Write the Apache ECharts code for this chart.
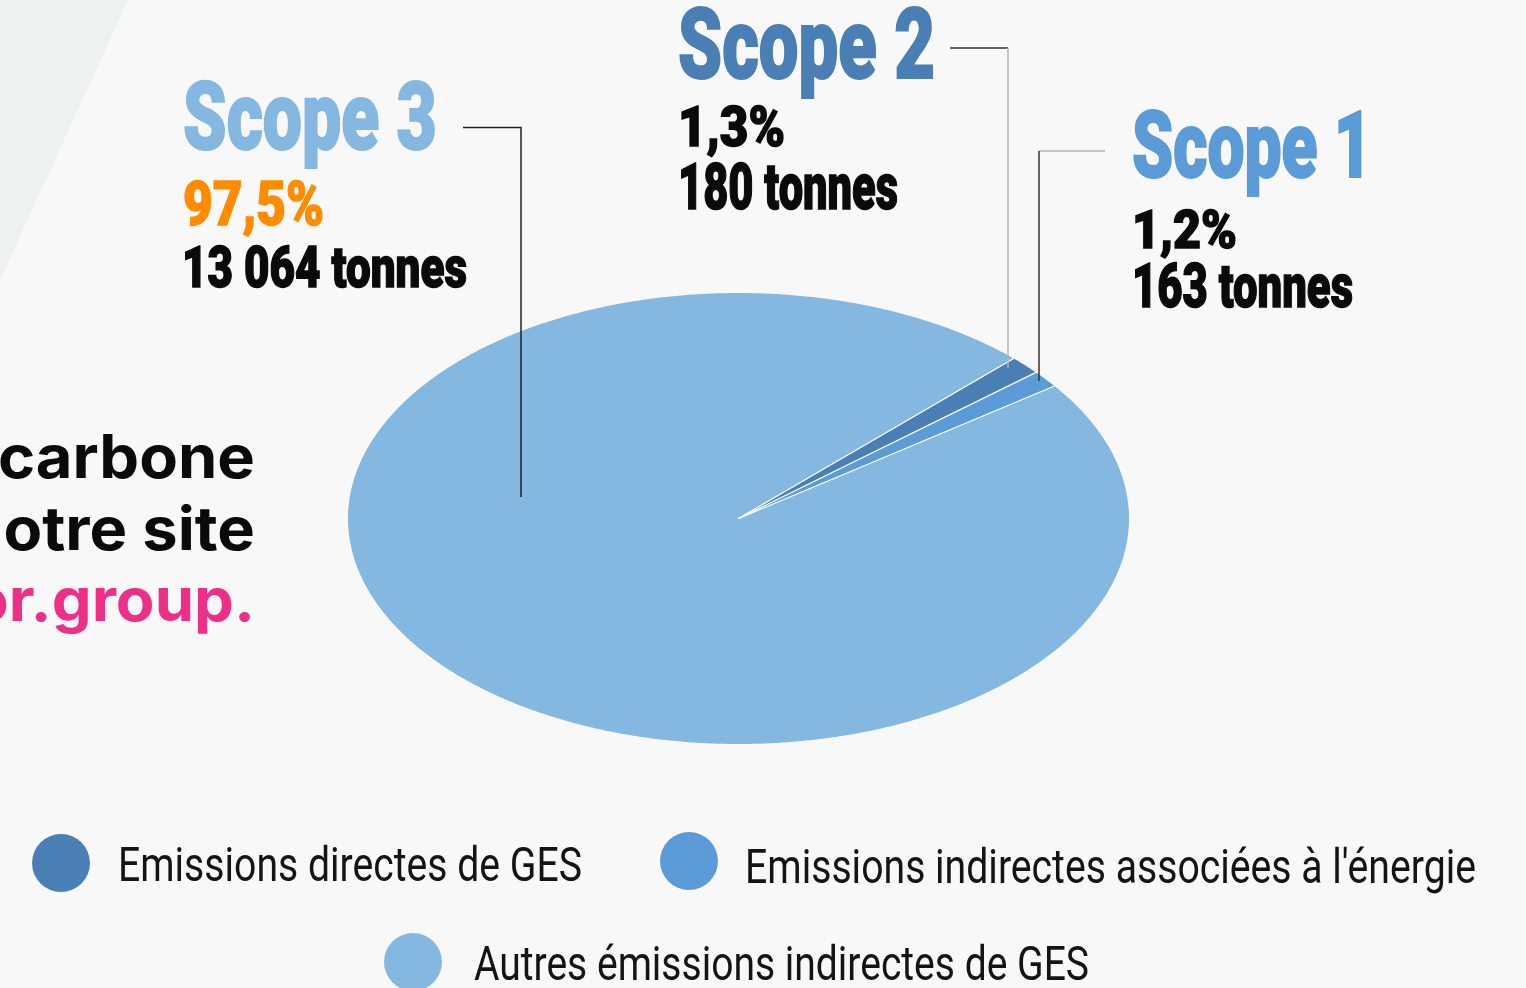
<!DOCTYPE html>
<html><head><meta charset="utf-8">
<script src="https://cdn.jsdelivr.net/npm/echarts@6/dist/echarts.min.js"></script>
<style>html,body{margin:0;padding:0;background:#f8f8f8}#c{width:1526px;height:988px}</style>
</head><body><div id="c"></div>
<script>
// ---- data ----
const categories = ['Emissions directes de GES', "Emissions indirectes associées à l'énergie", 'Autres émissions indirectes de GES'];
const tonnes = [180, 163, 13064];
const scopeLabels = ['Scope 2', 'Scope 1', 'Scope 3'];
const pctLabels = ['1,3%', '1,2%', '97,5%'];
const tonnesLabels = ['180 tonnes', '163 tonnes', '13 064 tonnes'];
const sideLines = ['carbone', 'otre site', 'or.group.'];

const colors = ['#4a7fb5', '#5a9bd8', '#85b8e0'];
const total = tonnes.reduce((a, b) => a + b, 0);
const cumBefore = tonnes.map((v, i) => tonnes.slice(0, i).reduce((a, b) => a + b, 0));
const START = 45.2; // degrees, clockwise

const cv = document.createElement('canvas').getContext('2d');
function fitScale(text, font, target) { cv.font = font; return target / cv.measureText(text).width; }

const HEAD = "Roboto, 'Liberation Sans', sans-serif";
// text compressed horizontally to a given width; yCap = vertical centre of the capitals
function condText(text, x, yCap, size, targetW, color, weight, stroke) {
  const w = weight || 900;
  const font = w + ' ' + size + 'px ' + HEAD;
  const st = { text: text, fontFamily: HEAD, fontWeight: w, fontSize: size, fill: color, align: 'left', verticalAlign: 'middle' };
  if (stroke) { st.stroke = color; st.lineWidth = stroke; }
  return { type: 'text', x: x, y: yCap + 0.07 * size, scaleX: fitScale(text, font, targetW), z: 20, silent: true, style: st };
}

function renderItem(params, api) {
  const before = api.value(0), v = api.value(1);
  const a0 = START - before / total * 360;
  const a1 = a0 - v / total * 360;
  const c = api.coord([0, 0]);
  const pts = [c];
  const n = Math.max(4, Math.ceil(Math.abs(a1 - a0) / 0.4));
  for (let k = 0; k <= n; k++) {
    const a = (a0 + (a1 - a0) * k / n) * Math.PI / 180;
    pts.push(api.coord([Math.cos(a), Math.sin(a)]));
  }
  const r0 = a0 * Math.PI / 180;
  const e0 = api.coord([Math.cos(r0), Math.sin(r0)]);
  return {
    type: 'group',
    children: [
      { type: 'polygon', shape: { points: pts }, style: { fill: api.visual('color') } },
      { type: 'line', z2: 10, shape: { x1: c[0], y1: c[1], x2: e0[0], y2: e0[1] }, style: { stroke: '#ffffff', lineWidth: 1.3 } }
    ]
  };
}

const legendPos = [[27, 829], [655, 827], [379, 928]];
const legendTextPos = [[118, 866, 464], [745, 868, 731], [474, 965, 615]];

const sideFont = "700 60px Inter";
const sideScale = fitScale(sideLines[0], sideFont, 257);

const chart = echarts.init(document.getElementById('c'), null, { renderer: 'canvas' });
chart.setOption({
  backgroundColor: '#f8f8f8',
  animation: false,
  grid: { left: 348, top: 293, width: 781, height: 451 },
  xAxis: { type: 'value', min: -1, max: 1, show: false },
  yAxis: { type: 'value', min: -1, max: 1, show: false },
  legend: categories.map((name, i) => ({
    data: [name], left: legendPos[i][0], top: legendPos[i][1], icon: 'circle',
    itemWidth: 58, itemHeight: 58, selectedMode: false, formatter: () => ''
  })),
  graphic: [
    { type: 'polygon', z: -10, silent: true, shape: { points: [[0, 0], [128, 0], [0, 280]] }, style: { fill: '#eff1f1' } },
    // side text
    ...sideLines.map((t, i) => ({
      type: 'text', x: 255, y: [460, 532, 603][i], scaleX: sideScale, z: 20, silent: true,
      style: { text: t, fontFamily: 'Inter', fontWeight: 700, fontSize: 60, fill: i === 2 ? '#ee2f87' : '#0a0a0a', align: 'right', verticalAlign: 'middle' }
    })),
    // legend labels (condensed)
    ...categories.map((t, i) => condText(t, legendTextPos[i][0], legendTextPos[i][1], 48, legendTextPos[i][2], '#141414', 400)),
    // Scope 3 block
    condText(scopeLabels[2], 183, 118.5, 94, 254, colors[2], 900, 2),
    condText(pctLabels[2], 183, 205, 62, 141, '#ff8c00', 900, 1.5),
    condText(tonnesLabels[2], 182, 268, 58, 285, '#0a0a0a', 900, 1.5),
    // Scope 2 block
    condText(scopeLabels[0], 678, 47, 98, 257, colors[0], 900, 2),
    condText(pctLabels[0], 678, 128, 56, 107, '#0a0a0a', 900, 1.5),
    condText(tonnesLabels[0], 678, 188.5, 64, 220, '#0a0a0a', 900, 1.5),
    // Scope 1 block
    condText(scopeLabels[1], 1132, 147.5, 92, 240, colors[1], 900, 2),
    condText(pctLabels[1], 1132, 231, 54, 105, '#0a0a0a', 900, 1.5),
    condText(tonnesLabels[1], 1132, 287.5, 62, 221, '#0a0a0a', 900, 1.5),
    // leader lines
    { type: 'polyline', z: 15, silent: true, shape: { points: [[463, 127.5], [521, 127.5], [521, 497]] }, style: { stroke: '#222', lineWidth: 1.5, fill: null } },
    { type: 'polyline', z: 15, silent: true, shape: { points: [[950, 48], [1008, 48]] }, style: { stroke: '#333', lineWidth: 1.5, fill: null } },
    { type: 'polyline', z: 15, silent: true, shape: { points: [[1008, 48], [1008, 368]] }, style: { stroke: '#b5b5b5', lineWidth: 1.5, fill: null } },
    { type: 'polyline', z: 15, silent: true, shape: { points: [[1105, 151], [1039, 151]] }, style: { stroke: '#b5b5b5', lineWidth: 1.5, fill: null } },
    { type: 'polyline', z: 15, silent: true, shape: { points: [[1039, 151], [1039, 381]] }, style: { stroke: '#333', lineWidth: 1.5, fill: null } }
  ],
  series: categories.map((name, i) => ({
    type: 'custom', name: name, coordinateSystem: 'cartesian2d',
    itemStyle: { color: colors[i] }, renderItem: renderItem, silent: true,
    data: [[cumBefore[i], tonnes[i]]]
  }))
});
</script></body></html>
